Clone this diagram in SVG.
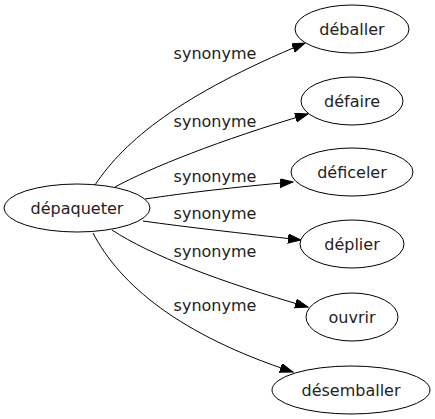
<svg xmlns="http://www.w3.org/2000/svg" width="435" height="419" viewBox="0 0 435 419">
<style>
.n ellipse{fill:#fff;stroke:#000;stroke-width:1}
text{font-family:"DejaVu Sans",sans-serif;font-size:16px;fill:#222;text-anchor:middle}
.e path{fill:none;stroke:#000;stroke-width:1}
</style>
<defs>
<marker id="ah" markerUnits="userSpaceOnUse" markerWidth="14" markerHeight="10" refX="13" refY="4.5" orient="auto" viewBox="0 0 14 10">
<path d="M0,0 L13,4.5 L0,9 z" fill="#000" stroke="#000"/>
</marker>
</defs>
<rect width="435" height="419" fill="#fff"/>
<g id="edges" class="e">
<path d="M95,185 C125,140 180,95 305,43" marker-end="url(#ah)"/>
<path d="M115,187 C150,168 220,140 308,114" marker-end="url(#ah)"/>
<path d="M145,199 C185,193 235,187 293,182" marker-end="url(#ah)"/>
<path d="M143,221 C185,227 240,233 301,240" marker-end="url(#ah)"/>
<path d="M112,230 C150,255 220,282 308,307" marker-end="url(#ah)"/>
<path d="M93,233 C120,285 180,335 293,372" marker-end="url(#ah)"/>
</g>
<g id="labels">
<text x="215" y="59">synonyme</text>
<text x="215" y="127">synonyme</text>
<text x="215" y="182">synonyme</text>
<text x="215" y="219">synonyme</text>
<text x="215" y="257">synonyme</text>
<text x="215" y="311">synonyme</text>
</g>
<g id="n_depaqueter" class="n"><ellipse cx="77" cy="208" rx="73" ry="24"/><text x="77" y="214">dépaqueter</text></g>
<g id="n_deballer" class="n"><ellipse cx="352" cy="29" rx="57" ry="24"/><text x="352" y="35">déballer</text></g>
<g id="n_defaire" class="n"><ellipse cx="352" cy="101" rx="51" ry="24"/><text x="352" y="107">défaire</text></g>
<g id="n_deficeler" class="n"><ellipse cx="352" cy="172" rx="61" ry="24"/><text x="352" y="178">déficeler</text></g>
<g id="n_deplier" class="n"><ellipse cx="352" cy="244" rx="52" ry="24"/><text x="352" y="250">déplier</text></g>
<g id="n_ouvrir" class="n"><ellipse cx="352" cy="317" rx="46" ry="24"/><text x="352" y="323">ouvrir</text></g>
<g id="n_desemballer" class="n"><ellipse cx="351" cy="390" rx="79" ry="24"/><text x="351" y="396">désemballer</text></g>
</svg>
